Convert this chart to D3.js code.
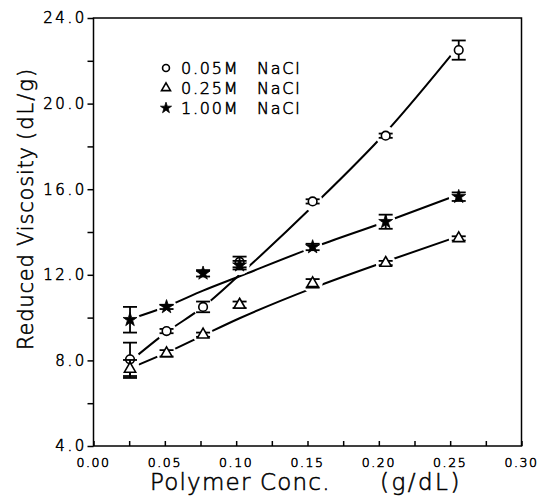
<!DOCTYPE html>
<html>
<head>
<meta charset="utf-8">
<script src="https://cdn.jsdelivr.net/npm/d3@7"></script>
<style>
  body { margin: 0; background: #fff; }
  text { font-family: "DejaVu Sans", sans-serif; font-weight: 200; fill: #000; stroke: #000; stroke-width: 0.55px; }
</style>
</head>
<body>
<div id="chart"></div>
<script>
// polymer concentration (g/dL)
var conc = [0.0256, 0.0512, 0.0768, 0.1024, 0.1536, 0.2048, 0.2560];

// reduced viscosity (dL/g) and error bars, per salt concentration
var visc05 = [8.05, 9.37, 10.5, 12.6, 15.43, 18.5, 22.5];
var err05 = [0.78, 0.1, 0.25, 0.25, 0.1, 0.1, 0.45];
var visc25 = [7.6, 8.33, 9.2, 10.6, 11.6, 12.55, 13.7];
var err25 = [0.42, 0.15, 0.1, 0.15, 0.2, 0.1, 0.1];
var visc100 = [9.9, 10.5, 12.07, 12.45, 13.3, 14.48, 15.65];
var err100 = [0.6, 0.1, 0.15, 0.2, 0.15, 0.33, 0.2];

var fit05 = [7.95, 9.32, 10.5, 12.0, 15.2, 18.65, 22.7];
var fit25 = [7.63, 8.36, 9.17, 9.97, 11.38, 12.62, 13.8];
var fit100 = [9.93, 10.52, 11.26, 11.93, 13.27, 14.48, 15.75];

var seriesNames = ["0.05M", "0.25M", "1.00M"];
var xTicks = [0, 0.05, 0.10, 0.15, 0.20, 0.25, 0.30];
var yTicks = [4, 8, 12, 16, 20, 24];

var width = 539, height = 498;

var svg = d3.select("#chart").append("svg")
    .attr("width", width)
    .attr("height", height);

var xScale = d3.scaleLinear().domain([0, 0.3]).range([93.5, 521.5]);
var yScale = d3.scaleLinear().domain([4, 24]).range([446, 18]);

var series = [
    {name: seriesNames[0], visc: visc05, err: err05, fit: fit05, sym: "circle"},
    {name: seriesNames[1], visc: visc25, err: err25, fit: fit25, sym: "triangle"},
    {name: seriesNames[2], visc: visc100, err: err100, fit: fit100, sym: "star"}
];

// mask so the curves break around each marker
var mask = svg.append("defs").append("mask")
    .attr("id", "gaps")
    .attr("maskUnits", "userSpaceOnUse")
    .attr("x", 0).attr("y", 0).attr("width", width).attr("height", height);
mask.append("rect").attr("width", width).attr("height", height).attr("fill", "#fff");
series.forEach(function(s) {
    conc.forEach(function(c, i) {
        mask.append("circle")
            .attr("cx", xScale(c))
            .attr("cy", yScale(s.visc[i]))
            .attr("r", 10)
            .attr("fill", "#000");
    });
});

// frame
svg.append("rect")
    .attr("x", xScale(0)).attr("y", yScale(24))
    .attr("width", xScale(0.3) - xScale(0))
    .attr("height", yScale(4) - yScale(24))
    .attr("fill", "none")
    .attr("stroke", "#000")
    .attr("stroke-width", 1.5);

// x axis: ticks point inward
var xAxis = d3.axisTop(xScale)
    .tickValues(d3.range(0, 0.3001, 0.025))
    .tickSizeInner(5).tickSizeOuter(0)
    .tickFormat("");
svg.append("g")
    .attr("transform", "translate(0," + yScale(4) + ")")
    .call(xAxis)
    .call(function(g) { g.select(".domain").remove(); })
    .selectAll("line").attr("stroke-width", 1.5);

svg.append("g").selectAll("text")
    .data(xTicks)
    .enter().append("text")
    .attr("x", function(d) { return xScale(d); })
    .attr("y", 467)
    .attr("text-anchor", "middle")
    .style("font-size", "12.5px")
    .style("letter-spacing", "1.6px")
    .text(function(d) { return d3.format(".2f")(d); });

// y axis: ticks point outward
var yAxis = d3.axisLeft(yScale)
    .tickValues(d3.range(4, 24.01, 2))
    .tickSizeInner(6).tickSizeOuter(0)
    .tickFormat("");
svg.append("g")
    .attr("transform", "translate(" + xScale(0) + ",0)")
    .call(yAxis)
    .call(function(g) { g.select(".domain").remove(); })
    .selectAll("line").attr("stroke-width", 1.5);

svg.append("g").selectAll("text")
    .data(yTicks)
    .enter().append("text")
    .attr("x", 87)
    .attr("y", function(d) { return yScale(d); })
    .attr("dy", "0.36em")
    .attr("text-anchor", "end")
    .style("font-size", "15px")
    .style("letter-spacing", "2.6px")
    .text(function(d) { return d3.format(".1f")(d); });

// axis titles
svg.append("text")
    .attr("x", 150).attr("y", 490)
    .style("font-size", "23px")
    .style("letter-spacing", "1.2px")
    .text("Polymer Conc.");
svg.append("text")
    .attr("x", 380).attr("y", 490)
    .style("font-size", "23px")
    .style("letter-spacing", "2.5px")
    .text("(g/dL)");

svg.append("text")
    .attr("transform", "translate(33,350) rotate(-90)")
    .style("font-size", "21px")
    .style("letter-spacing", "0.8px")
    .text("Reduced Viscosity");
svg.append("text")
    .attr("transform", "translate(33,140) rotate(-90)")
    .style("font-size", "21px")
    .style("letter-spacing", "2px")
    .text("(dL/g)");

// trend curves
var fitLine = d3.line()
    .curve(d3.curveMonotoneX)
    .x(function(d) { return xScale(d[0]); })
    .y(function(d) { return yScale(d[1]); });

svg.append("g")
    .attr("mask", "url(#gaps)")
    .selectAll("path")
    .data(series)
    .enter().append("path")
    .attr("d", function(s) { return fitLine(d3.zip(conc, s.fit)); })
    .attr("fill", "none")
    .attr("stroke", "#000")
    .attr("stroke-width", 2);

// markers
function drawSymbol(g, type, x, y, scale) {
    if (type === "circle") {
        g.append("circle")
            .attr("cx", x).attr("cy", y).attr("r", 4.3 * scale)
            .attr("fill", "#fff").attr("stroke", "#000").attr("stroke-width", 1.6);
    } else if (type === "triangle") {
        g.append("path")
            .attr("transform", "translate(" + x + "," + y + ")")
            .attr("d", d3.symbol().type(d3.symbolTriangle).size(55 * scale * scale)())
            .attr("fill", "#fff").attr("stroke", "#000").attr("stroke-width", 1.6);
    } else {
        g.append("path")
            .attr("transform", "translate(" + x + "," + y + ")")
            .attr("d", d3.symbol().type(d3.symbolStar).size(60 * scale * scale)())
            .attr("fill", "#000").attr("stroke", "#000").attr("stroke-width", 0.8);
    }
}

var pts = svg.append("g");
series.forEach(function(s) {
    conc.forEach(function(c, i) {
        var x = xScale(c);
        var yTop = yScale(s.visc[i] + s.err[i]);
        var yBot = yScale(s.visc[i] - s.err[i]);
        var eb = pts.append("g")
            .attr("stroke", "#000")
            .attr("stroke-width", 1.8);
        eb.append("line").attr("x1", x).attr("x2", x).attr("y1", yTop).attr("y2", yBot);
        eb.append("line").attr("x1", x - 7).attr("x2", x + 7).attr("y1", yTop).attr("y2", yTop);
        eb.append("line").attr("x1", x - 7).attr("x2", x + 7).attr("y1", yBot).attr("y2", yBot);
        drawSymbol(pts, s.sym, x, yScale(s.visc[i]), 1);
    });
});

// legend
var legend = svg.append("g");
series.forEach(function(s, i) {
    var y = 68 + i * 20;
    drawSymbol(legend, s.sym, 166, y, 0.8);
    legend.append("text")
        .attr("x", 181).attr("y", y).attr("dy", "0.36em")
        .style("font-size", "16px")
        .style("letter-spacing", "1.8px")
        .text(s.name);
    legend.append("text")
        .attr("x", 257).attr("y", y).attr("dy", "0.36em")
        .style("font-size", "16px")
        .style("letter-spacing", "1.8px")
        .text("NaCl");
});
</script>
</body>
</html>
